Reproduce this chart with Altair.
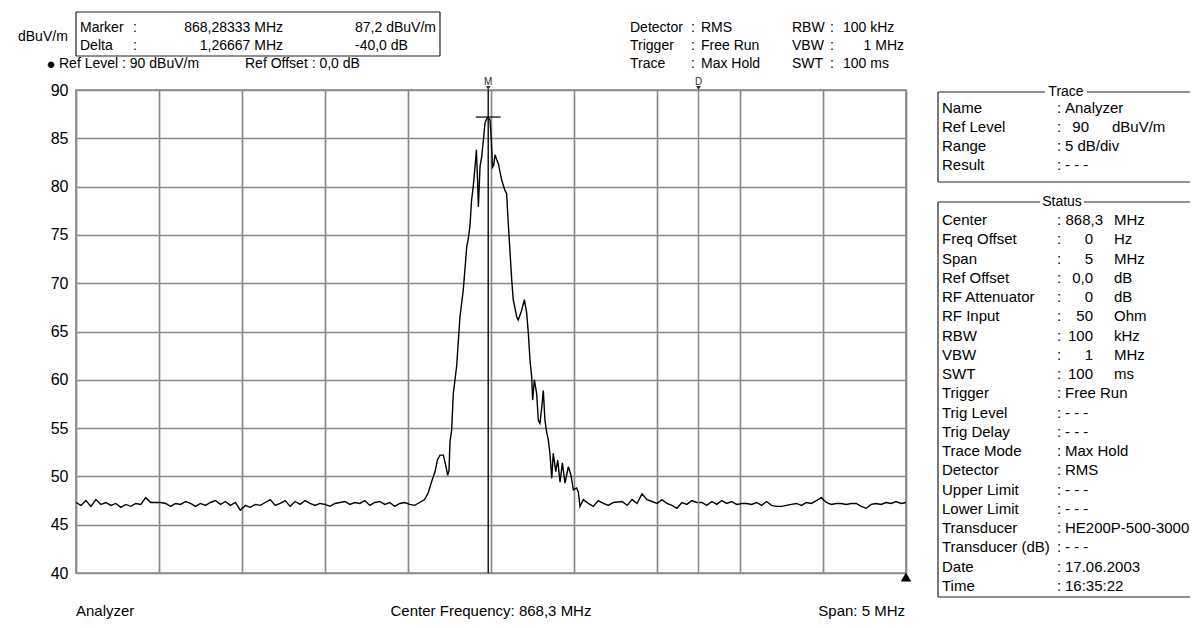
import altair as alt
import pandas as pd

FONT = "Liberation Sans"

# ---------------- trace data (MHz, dBuV/m) ----------------
LEFT_FLOOR_MHZ = [865.80, 865.83, 865.86, 865.89, 865.92, 865.95, 865.98, 866.01, 866.04, 866.07,
                  866.10, 866.13, 866.16, 866.19, 866.22, 866.25, 866.28, 866.31, 866.34, 866.37,
                  866.40, 866.43, 866.46, 866.49, 866.52, 866.55, 866.58, 866.61, 866.64, 866.67,
                  866.70, 866.73, 866.76, 866.79, 866.82, 866.85, 866.88, 866.91, 866.94, 866.97,
                  867.00, 867.03, 867.06, 867.09, 867.12, 867.15, 867.18, 867.21, 867.24, 867.27,
                  867.30, 867.33, 867.36, 867.39, 867.42, 867.45, 867.48, 867.51, 867.54, 867.57,
                  867.60, 867.63, 867.66, 867.69, 867.72, 867.75, 867.78, 867.81, 867.84, 867.87,
                  867.90]
LEFT_FLOOR_DBUV = [47.3, 47.0, 47.5, 46.9, 47.6, 47.1, 47.3, 47.0, 47.2, 46.8,
                   47.1, 46.9, 47.2, 47.1, 47.8, 47.3, 47.3, 47.3, 47.2, 46.9,
                   47.2, 47.1, 47.4, 47.2, 46.9, 47.2, 47.0, 47.3, 47.5, 47.1,
                   47.4, 47.0, 47.3, 46.5, 47.0, 46.8, 47.1, 47.0, 47.3, 47.6,
                   47.0, 47.2, 47.5, 46.9, 47.4, 47.1, 47.5, 47.2, 47.0, 47.2,
                   47.1, 46.9, 47.2, 47.3, 47.4, 47.1, 47.3, 47.2, 47.5, 47.0,
                   47.3, 47.4, 47.1, 47.3, 46.9, 47.2, 47.3, 47.1, 47.0, 47.3,
                   47.6]
PEAK_MHZ = [867.922, 867.943, 867.963, 867.977, 867.993, 868.013, 868.029, 868.039, 868.047, 868.053,
            868.063, 868.073, 868.093, 868.113, 868.133, 868.154, 868.163, 868.173, 868.183, 868.193,
            868.204, 868.212, 868.219, 868.224, 868.234, 868.244, 868.254, 868.264, 868.274, 868.283,
            868.294, 868.302, 868.309, 868.316, 868.324, 868.334, 868.344, 868.364, 868.384, 868.394,
            868.404, 868.414, 868.425, 868.434, 868.455, 868.464, 868.485, 868.501, 868.515, 868.525,
            868.535, 868.545, 868.551, 868.561, 868.575, 868.585, 868.595, 868.606, 868.615, 868.625,
            868.636, 868.645, 868.655, 868.666, 868.675, 868.690, 868.702, 868.716, 868.730, 868.746,
            868.766, 868.782, 868.796, 868.816, 868.826, 868.836, 868.856, 868.886, 868.916, 868.946,
            868.977, 869.007, 869.037]
PEAK_DBUV = [48.3, 49.5, 50.5, 51.7, 52.2, 52.2, 51.0, 50.1, 50.6, 53.6,
             54.8, 58.6, 61.4, 66.5, 69.3, 73.8, 74.6, 75.9, 78.6, 80.0,
             82.1, 83.8, 80.6, 77.9, 82.1, 83.1, 84.8, 86.6, 87.0, 87.2,
             86.9, 84.8, 82.0, 82.2, 83.3, 82.8, 82.4, 80.7, 79.6, 79.3,
             76.2, 73.4, 70.3, 68.3, 66.5, 66.2, 67.2, 68.3, 66.9, 64.8,
             62.0, 60.3, 57.9, 60.0, 58.6, 55.8, 55.5, 57.2, 58.9, 55.8,
             54.5, 53.8, 52.4, 49.8, 52.4, 50.5, 51.7, 49.4, 51.4, 49.3,
             51.0, 50.1, 48.6, 48.8, 48.4, 46.9, 47.6, 47.2, 46.9, 47.5,
             47.2, 47.0, 47.3]
RIGHT_FLOOR_MHZ = [869.09, 869.12, 869.15, 869.18, 869.21, 869.24, 869.27, 869.30, 869.33, 869.36,
                   869.39, 869.42, 869.45, 869.48, 869.51, 869.54, 869.57, 869.60, 869.63, 869.66,
                   869.69, 869.72, 869.75, 869.78, 869.81, 869.84, 869.87, 869.90, 869.93, 869.96,
                   869.99, 870.02, 870.05, 870.08, 870.11, 870.14, 870.17, 870.20, 870.23, 870.26,
                   870.29, 870.32, 870.35, 870.38, 870.41, 870.44, 870.47, 870.50, 870.53, 870.56,
                   870.59, 870.62, 870.65, 870.68, 870.71, 870.74, 870.77, 870.80]
RIGHT_FLOOR_DBUV = [47.4, 47.0, 47.6, 47.2, 48.2, 47.6, 47.4, 47.2, 47.6, 47.2,
                    47.0, 46.7, 47.3, 47.1, 47.5, 47.3, 47.3, 47.0, 47.4, 47.1,
                    47.5, 47.2, 47.4, 47.1, 47.2, 47.2, 47.1, 47.3, 47.0, 47.4,
                    47.0, 46.9, 46.9, 47.0, 47.1, 47.2, 47.0, 47.3, 47.2, 47.5,
                    47.8, 47.3, 47.1, 47.2, 47.2, 47.1, 47.2, 47.2, 46.9, 46.7,
                    47.1, 47.2, 47.1, 47.3, 47.2, 47.4, 47.2, 47.3]

FREQ_MHZ = LEFT_FLOOR_MHZ + PEAK_MHZ + RIGHT_FLOOR_MHZ
LEVEL_DBUV = LEFT_FLOOR_DBUV + PEAK_DBUV + RIGHT_FLOOR_DBUV

GRID_MHZ = [865.8, 866.3, 866.8, 867.3, 867.8, 868.3, 868.8, 869.3, 869.8, 870.3, 870.8]
GRID_DBUV = [40, 45, 50, 55, 60, 65, 70, 75, 80, 85, 90]
MARKER_MHZ = 868.28333
MARKER_DBUV = 87.2
DELTA_MHZ = 869.55
MARKER_NAMES = ["M", "D"]

# ---------------- texts ----------------
UNIT_LABEL = "dBuV/m"
MARKER_BOX_LABELS = ["Marker", "Delta"]
MARKER_BOX_FREQS = ["868,28333 MHz", "1,26667 MHz"]
MARKER_BOX_LEVELS = ["87,2 dBuV/m", "-40,0 dB"]
REF_LINE = ["Ref Level : 90 dBuV/m", "Ref Offset : 0,0 dB"]
SETTINGS_LABELS = ["Detector", "Trigger", "Trace"]
SETTINGS_VALUES = ["RMS", "Free Run", "Max Hold"]
BW_LABELS = ["RBW", "VBW", "SWT"]
BW_VALUES = ["100 kHz", "1 MHz", "100 ms"]
TRACE_TITLE = "Trace"
TRACE_LABELS = ["Name", "Ref Level", "Range", "Result"]
TRACE_VALUES = ["Analyzer", "90", "5 dB/div", "- - -"]
TRACE_UNITS = ["", "dBuV/m", "", ""]
STATUS_TITLE = "Status"
STATUS_LABELS = ["Center", "Freq Offset", "Span", "Ref Offset", "RF Attenuator", "RF Input", "RBW",
                 "VBW", "SWT", "Trigger", "Trig Level", "Trig Delay", "Trace Mode", "Detector",
                 "Upper Limit", "Lower Limit", "Transducer", "Transducer (dB)", "Date", "Time"]
STATUS_VALUES = ["868,3", "0", "5", "0,0", "0", "50", "100", "1", "100", "Free Run", "- - -",
                 "- - -", "Max Hold", "RMS", "- - -", "- - -", "HE200P-500-3000", "- - -",
                 "17.06.2003", "16:35:22"]
STATUS_UNITS = ["MHz", "Hz", "MHz", "dB", "dB", "Ohm", "kHz", "MHz", "ms", "", "", "", "", "",
                "", "", "", "", "", ""]
FOOTER = ["Analyzer", "Center Frequency:  868,3 MHz", "Span:  5 MHz"]

# ---------------- layout (page pixels) ----------------
PX0, PY0 = 76, 90
W, H = 830, 483
GRID_COLOR = "#8a8a8a"

texts = []


def add(t, x, y, size=15, align="left", base="middle"):
    texts.append({"t": t, "px": x - PX0, "py": y - PY0, "fs": size, "al": align, "bl": base})


lines = []


def seg(x1, y1, x2, y2, color="#202020", w=1.2):
    lines.append({"x1": x1 - PX0, "y1": y1 - PY0, "x2": x2 - PX0, "y2": y2 - PY0, "c": color, "w": w})


# top-left marker box
add(UNIT_LABEL, 18, 37, 14)
for i in range(2):
    y = 28 + 18 * i
    add(MARKER_BOX_LABELS[i], 80, y, 14)
    add(":", 133, y, 14)
    add(MARKER_BOX_FREQS[i], 283, y, 14, align="right")
    add(MARKER_BOX_LEVELS[i], 355, y, 14)
seg(76, 12, 440, 12)
seg(76, 56, 440, 56)
seg(76, 12, 76, 56)
seg(440, 12, 440, 56)
add("\u25cf", 51, 64, 15, "center")
add(REF_LINE[0], 59, 64, 14)
add(REF_LINE[1], 245, 64, 14)

# top-middle settings
for i in range(3):
    y = 28 + 18 * i
    add(SETTINGS_LABELS[i], 630, y, 14)
    add(":", 691, y, 14)
    add(SETTINGS_VALUES[i], 701, y, 14)
    add(BW_LABELS[i], 792, y, 14)
    add(":", 830, y, 14)
    if i == 1:
        add(BW_VALUES[i], 904, y, 14, align="right")
    else:
        add(BW_VALUES[i], 843, y, 14)

# right panel: Trace box
add(TRACE_TITLE, 1066, 92, 14, "center")
seg(938, 92, 1045, 92)
seg(1087, 92, 1190, 92)
seg(938, 92, 938, 182)
seg(938, 182, 1190, 182)
for i, lab in enumerate(TRACE_LABELS):
    y = 108 + 19 * i
    add(lab, 942, y)
    add(":", 1057, y)
    if TRACE_UNITS[i]:
        add(TRACE_VALUES[i], 1089, y, align="right")
        add(TRACE_UNITS[i], 1112, y)
    else:
        add(TRACE_VALUES[i], 1065, y)

# right panel: Status box
add(STATUS_TITLE, 1062, 202, 14, "center")
seg(938, 202, 1040, 202)
seg(1084, 202, 1190, 202)
seg(938, 202, 938, 597)
seg(938, 597, 1190, 597)
for i, lab in enumerate(STATUS_LABELS):
    y = 220 + 19.25 * i
    add(lab, 942, y)
    add(":", 1057, y)
    if STATUS_UNITS[i]:
        add(STATUS_VALUES[i], 1103 if i == 0 else 1093, y, align="right")
        add(STATUS_UNITS[i], 1114, y)
    else:
        add(STATUS_VALUES[i], 1065, y)

# footer (alphabetic baseline so descenders stay inside the drawing)
add(FOOTER[0], 76, 616, align="left", base="alphabetic")
add(FOOTER[1], 491, 616, align="center", base="alphabetic")
add(FOOTER[2], 905, 616, align="right", base="alphabetic")

text_df = pd.DataFrame(texts)
line_df = pd.DataFrame(lines)
tri_df = pd.DataFrame({"px": [906 - PX0], "py": [577 - PY0]})

# ---------------- data layers ----------------
xscale = alt.Scale(domain=[GRID_MHZ[0], GRID_MHZ[-1]], nice=False, zero=False)
yscale = alt.Scale(domain=[GRID_DBUV[0], GRID_DBUV[-1]], nice=False, zero=False)
xaxis = alt.Axis(values=GRID_MHZ, labels=False, ticks=False, domain=False, grid=True,
                 gridColor=GRID_COLOR, gridWidth=1.7, gridOpacity=1, title=None)
yaxis = alt.Axis(values=GRID_DBUV, ticks=False, domain=False, grid=True, gridColor=GRID_COLOR,
                 gridWidth=1.7, gridOpacity=1, labelFontSize=16, labelFont=FONT,
                 labelColor="black", labelPadding=8, title=None)

trace_df = pd.DataFrame({"f": FREQ_MHZ, "l": LEVEL_DBUV})
trace = alt.Chart(trace_df).mark_line(color="black", strokeWidth=1.4).encode(
    x=alt.X("f:Q", scale=xscale, axis=xaxis),
    y=alt.Y("l:Q", scale=yscale, axis=yaxis),
)

mk_df = pd.DataFrame({"f": [MARKER_MHZ, DELTA_MHZ], "name": MARKER_NAMES,
                      "c": ["#1a1a1a", GRID_COLOR]})
marker_rules = alt.Chart(mk_df).mark_rule(strokeWidth=1.5).encode(
    x="f:Q", color=alt.Color("c:N", scale=None))
marker_labels = alt.Chart(mk_df).mark_text(fontSize=10, font=FONT, color="#333",
                                           baseline="middle").encode(
    x="f:Q", y=alt.value(-8), text="name:N")
marker_tris = alt.Chart(mk_df).mark_point(shape="triangle-down", filled=True, size=22,
                                          color="#333", opacity=1).encode(
    x="f:Q", y=alt.value(-2))
cross_df = pd.DataFrame({"f1": [MARKER_MHZ - 0.075], "f2": [MARKER_MHZ + 0.075],
                         "l": [MARKER_DBUV]})
cross = alt.Chart(cross_df).mark_rule(color="black", strokeWidth=1.2).encode(
    x="f1:Q", x2="f2:Q", y="l:Q")

data_layer = alt.layer(trace, marker_rules, cross, marker_labels, marker_tris)


# ---------------- annotation layers (pixel positions) ----------------
def text_layer(al, bl):
    sub = text_df[(text_df["al"] == al) & (text_df["bl"] == bl)]
    return alt.Chart(sub).mark_text(
        align=al, baseline=bl, font=FONT, color="black").encode(
        x=alt.X("px:Q", scale=None, axis=None),
        y=alt.Y("py:Q", scale=None, axis=None),
        text="t:N",
        size=alt.Size("fs:Q", scale=None, legend=None),
    )


box_lines = alt.Chart(line_df).mark_rule().encode(
    x=alt.X("x1:Q", scale=None, axis=None),
    y=alt.Y("y1:Q", scale=None, axis=None),
    x2="x2:Q",
    y2="y2:Q",
    color=alt.Color("c:N", scale=None),
    strokeWidth=alt.StrokeWidth("w:Q", scale=None, legend=None),
)
corner_tri = alt.Chart(tri_df).mark_point(shape="triangle-up", filled=True, size=110,
                                          color="black", opacity=1).encode(
    x=alt.X("px:Q", scale=None, axis=None),
    y=alt.Y("py:Q", scale=None, axis=None),
)

annot_layer = alt.layer(
    text_layer("left", "middle"), text_layer("right", "middle"), text_layer("center", "middle"),
    text_layer("left", "alphabetic"), text_layer("right", "alphabetic"),
    text_layer("center", "alphabetic"),
    box_lines, corner_tri)

chart = alt.layer(data_layer, annot_layer).resolve_scale(
    x="independent", y="independent"
).properties(
    width=W, height=H,
    padding={"left": 68, "top": 82, "right": 284, "bottom": 47},
    autosize=alt.AutoSizeParams(type="none"),
    background="white",
).configure_view(stroke=GRID_COLOR, strokeWidth=1.7)

chart.save("out.html", embed_options={"renderer": "svg", "actions": False})
